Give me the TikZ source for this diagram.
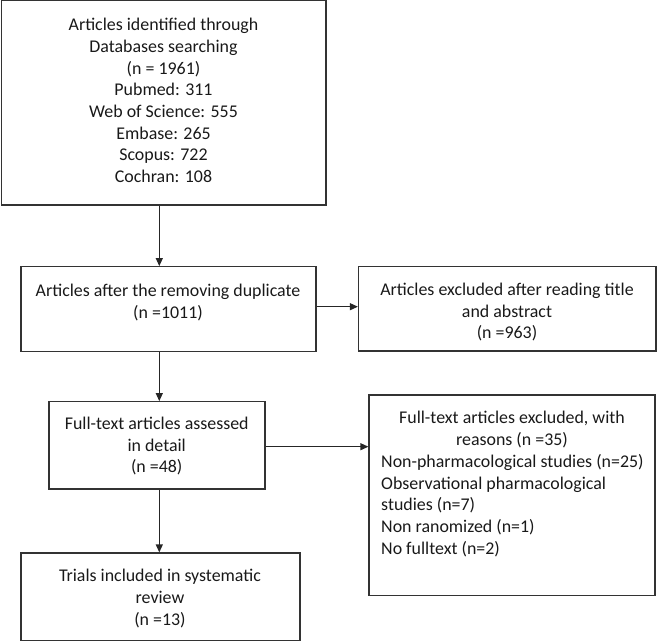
\documentclass[tikz,border=0pt]{standalone}
\usepackage{fontspec}
\setmainfont{Carlito}
\usetikzlibrary{arrows.meta}
\begin{document}
\begin{tikzpicture}[x=1pt,y=1pt,
  boxst/.style={draw=black!80,line width=1.2pt,inner sep=0pt},
  txt/.style={font=\fontsize{17.9}{21.7}\selectfont,text=black!90,inner sep=0pt,align=center},
  txtl/.style={font=\fontsize{17.9}{21.7}\selectfont,text=black!90,inner sep=0pt,align=left},
  arr/.style={draw=black!85,line width=1.2pt,-{Triangle[length=8pt,width=7pt]}}]
\useasboundingbox (0,0) rectangle (657,-642);
% boxes
\node[boxst,fit/.style={},minimum width=324.3pt,minimum height=204.3pt] (b1) at (163.85,-102.85) {};
\node[boxst,minimum width=295pt,minimum height=85pt] (b2) at (168.5,-309.2) {};
\node[boxst,minimum width=297.5pt,minimum height=84.3pt] (b3) at (507.25,-308.85) {};
\node[boxst,minimum width=216pt,minimum height=87.3pt] (b4) at (157,-445.35) {};
\node[boxst,minimum width=286pt,minimum height=200.7pt] (b5) at (512,-495.35) {};
\node[boxst,minimum width=279pt,minimum height=87.7pt] (b6) at (160.5,-596.85) {};
% texts
\node[txt] (t1) at (163.5,-100.6) {Articles identified through\\Databases searching\\(n = 1961)\\Pubmed: 311\\Web of Science: 555\\Embase: 265\\Scopus: 722\\Cochran: 108};
\node[txt] (t2) at (168,-302.6) {Articles after the removing duplicate\\(n =1011)};
\node[txt] (t3) at (507,-312.1) {Articles excluded after reading title\\and abstract\\(n =963)};
\node[txt] (t4) at (156.7,-446.2) {Full-text articles assessed\\in detail\\(n =48)};
\node[txt] (t5a) at (512,-429.6) {Full-text articles excluded, with\\reasons (n =35)};
\node[txtl,anchor=west] (t5b) at (381,-505.4) {Non-pharmacological studies (n=25)\\Observational pharmacological\\studies (n=7)\\Non ranomized (n=1)\\No fulltext (n=2)};
\node[txt] (t6) at (160,-598.6) {Trials included in systematic\\review\\(n =13)};
% connector guides
\coordinate (ax) at (159.3,0);
\coordinate (ay1) at (0,-306.7);
\coordinate (ay2) at (0,-446.7);
% connectors
\draw[arr] (b1.south -| ax) -- (b2.north -| ax);
\draw[arr] (b2.south -| ax) -- (b4.north -| ax);
\draw[arr] (b4.south -| ax) -- (b6.north -| ax);
\draw[arr] (b2.east |- ay1) -- (b3.west |- ay1);
\draw[arr] (b4.east |- ay2) -- (b5.west |- ay2);
\end{tikzpicture}
\end{document}
